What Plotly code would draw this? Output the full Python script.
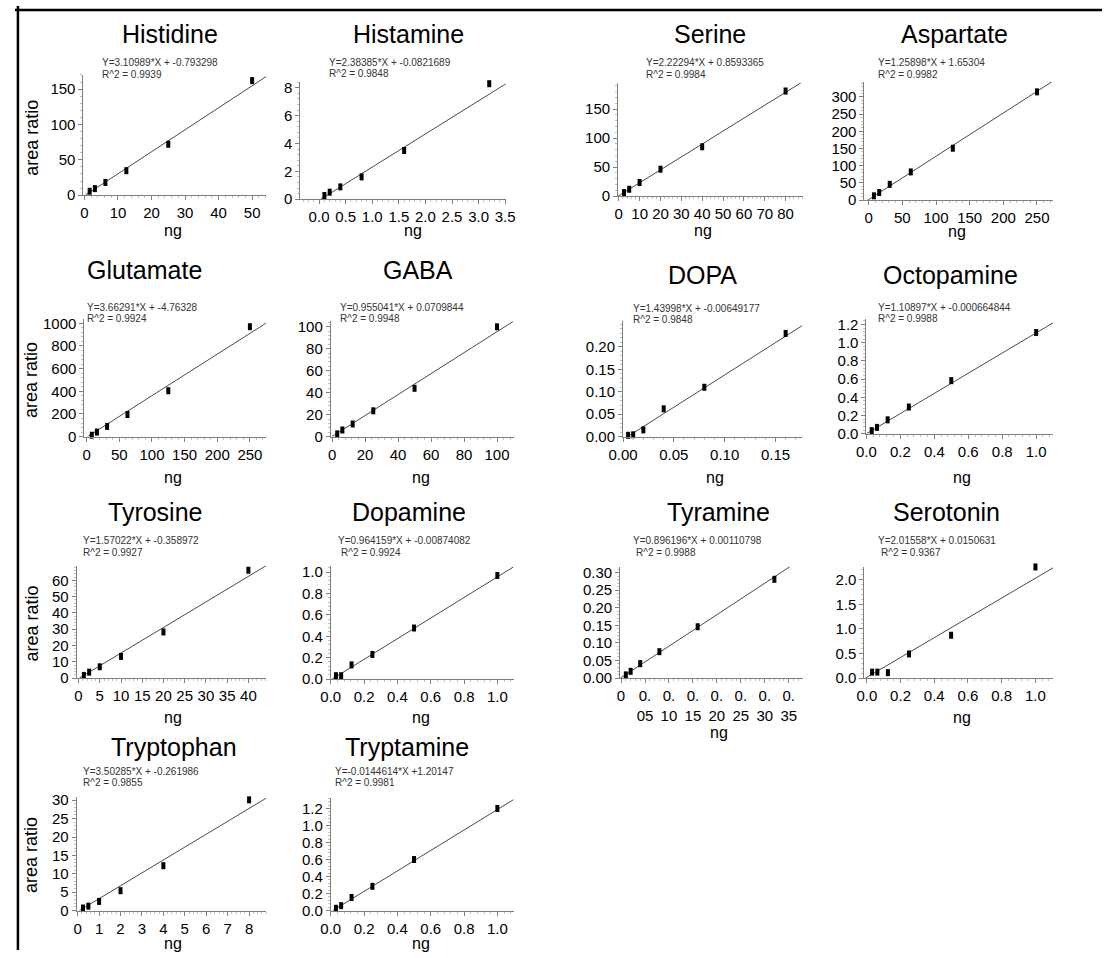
import plotly.graph_objects as go

W, H = 1112, 958

# ---------------- data ----------------
histidine_ng = [1.5625, 3.125, 6.25, 12.5, 25, 50]
histidine_ratio = [5.6, 9.3, 18, 34.7, 72, 162]
histamine_ng = [0.1, 0.2, 0.4, 0.8, 1.6, 3.2]
histamine_ratio = [0.26, 0.5, 0.88, 1.6, 3.5, 8.3]
serine_ng = [2.5, 5, 10, 20, 40, 80]
serine_ratio = [6.2, 11.9, 23.5, 46.4, 85, 181]
aspartate_ng = [7.8125, 15.625, 31.25, 62.5, 125, 250]
aspartate_ratio = [12.5, 22, 46, 82, 151, 315]
glutamate_ng = [7.8125, 15.625, 31.25, 62.5, 125, 250]
glutamate_ratio = [12, 40, 90, 195, 405, 970]
gaba_ng = [3.125, 6.25, 12.5, 25, 50, 100]
gaba_ratio = [2.5, 6, 11.5, 23.5, 44, 100]
dopa_ng = [0.005, 0.01, 0.02, 0.04, 0.08, 0.16]
dopa_ratio = [0.003, 0.004, 0.015, 0.062, 0.110, 0.230]
octopamine_ng = [0.03125, 0.0625, 0.125, 0.25, 0.5, 1.0]
octopamine_ratio = [0.033, 0.069, 0.152, 0.293, 0.583, 1.112]
tyrosine_ng = [1.25, 2.5, 5, 10, 20, 40]
tyrosine_ratio = [1.6, 3.6, 6.9, 13.3, 28.3, 66.2]
dopamine_ng = [0.03125, 0.0625, 0.125, 0.25, 0.5, 1.0]
dopamine_ratio = [0.031, 0.031, 0.132, 0.23, 0.477, 0.969]
tyramine_ng = [0.01, 0.02, 0.04, 0.08, 0.16, 0.32]
tyramine_ratio = [0.009, 0.019, 0.041, 0.075, 0.146, 0.281]
serotonin_ng = [0.03125, 0.0625, 0.125, 0.25, 0.5, 1.0]
serotonin_ratio = [0.12, 0.12, 0.11, 0.49, 0.87, 2.26]
tryptophan_ng = [0.25, 0.5, 1, 2, 4, 8]
tryptophan_ratio = [0.7, 1.2, 2.5, 5.4, 12.2, 30.1]
tryptamine_ng = [0.03125, 0.0625, 0.125, 0.25, 0.5, 1.0]
tryptamine_ratio = [0.027, 0.058, 0.154, 0.285, 0.6, 1.2]

compound_names = ["Histidine", "Histamine", "Serine", "Aspartate",
                  "Glutamate", "GABA", "DOPA", "Octopamine",
                  "Tyrosine", "Dopamine", "Tyramine", "Serotonin",
                  "Tryptophan", "Tryptamine"]
equation_labels = ["Y=3.10989*X + -0.793298", "Y=2.38385*X + -0.0821689",
                   "Y=2.22294*X + 0.8593365", "Y=1.25898*X + 1.65304",
                   "Y=3.66291*X + -4.76328", "Y=0.955041*X + 0.0709844",
                   "Y=1.43998*X + -0.00649177", "Y=1.10897*X + -0.000664844",
                   "Y=1.57022*X + -0.358972", "Y=0.964159*X + -0.00874082",
                   "Y=0.896196*X + 0.00110798", "Y=2.01558*X + 0.0150631",
                   "Y=3.50285*X + -0.261986", "Y=-0.0144614*X +1.20147"]
r2_labels = ["R^2 = 0.9939", "R^2 = 0.9848", "R^2 = 0.9984", "R^2 = 0.9982",
             "R^2 = 0.9924", "R^2 = 0.9948", "R^2 = 0.9848", "R^2 = 0.9988",
             "R^2 = 0.9927", "R^2 = 0.9924", "R^2 = 0.9988", "R^2 = 0.9367",
             "R^2 = 0.9855", "R^2 = 0.9981"]
fit_slopes = [3.10989, 2.38385, 2.22294, 1.25898, 3.66291, 0.955041, 1.43998,
              1.10897, 1.57022, 0.964159, 0.896196, 2.01558, 3.50285, 1.20147]
fit_intercepts = [-0.793298, -0.0821689, 0.8593365, 1.65304, -4.76328, 0.0709844,
                  -0.00649177, -0.000664844, -0.358972, -0.00874082, 0.00110798,
                  0.0150631, -0.261986, -0.0144614]
tyramine_tick_values = [0, 0.05, 0.10, 0.15, 0.20, 0.25, 0.30, 0.35]
tyramine_tick_text = ["0", "0.<br>05", "0.<br>10", "0.<br>15", "0.<br>20",
                      "0.<br>25", "0.<br>30", "0.<br>35"]
dopa_y_tick_values = [0, 0.05, 0.10, 0.15, 0.20]

xs = [histidine_ng, histamine_ng, serine_ng, aspartate_ng, glutamate_ng, gaba_ng,
      dopa_ng, octopamine_ng, tyrosine_ng, dopamine_ng, tyramine_ng, serotonin_ng,
      tryptophan_ng, tryptamine_ng]
ys = [histidine_ratio, histamine_ratio, serine_ratio, aspartate_ratio,
      glutamate_ratio, gaba_ratio, dopa_ratio, octopamine_ratio, tyrosine_ratio,
      dopamine_ratio, tyramine_ratio, serotonin_ratio, tryptophan_ratio,
      tryptamine_ratio]

# ---------------- layout of panels (pixels) ----------------
geom = [
    ((70, 257, 70, 192), (-0.3, 54.2), (0, 170), 10, 50, "", ""),
    ((292, 502, 77, 196), (-0.35, 3.51), (0, 8.43), 0.5, 2, ".1f", ""),
    ((617, 806, 78, 193), (-0.31, 88.3), (0, 195), 10, 50, "", ""),
    ((869, 1062, 77, 197), (-6.3, 274), (0, 344), 50, 50, "", ""),
    ((71, 257, 318, 437), (-3.5, 275), (0, 1035), 50, 200, "", ""),
    ((323, 510, 320, 437), (-0.8, 110), (0, 105), 20, 20, "", ""),
    ((622, 805, 320, 437), (0, 0.176), (0, 0.257), 0.05, 0.05, ".2f", ".2f"),
    ((871, 1062, 318, 434), (0, 1.1), (0, 1.257), 0.2, 0.2, ".1f", ".1f"),
    ((63, 257, 568, 682), (-0.46, 44.2), (0, 69), 5, 10, "", ""),
    ((323, 510, 568, 683), (0, 1.097), (0, 1.06), 0.2, 0.2, ".1f", ".1f"),
    ((619, 806, 569, 682), (-0.002, 0.3795), (0, 0.317), 0.05, 0.05, "", ".2f"),
    ((869, 1062, 569, 682), (-0.014, 1.105), (0, 2.265), 0.2, 0.5, ".1f", ".1f"),
    ((63, 257, 803, 918), (-0.05, 8.8), (0, 30.8), 1, 5, "", ""),
    ((323, 510, 804, 918), (0, 1.097), (0, 1.32), 0.2, 0.2, ".1f", ".1f"),
]
title_pos = [(159, 28), (403, 28), (711, 28), (961, 28),
             (132, 268), (412, 268), (703, 273), (957, 273),
             (143, 513), (403, 513), (720, 513), (953, 513),
             (163, 752), (401, 752)]
eq_pos = [(87, 57, 70), (319, 57, 69), (643, 57, 70), (881, 57, 70),
          (72, 306, 317), (330, 306, 317), (630, 307, 318), (881, 306, 317),
          (68, 542, 555), (328, 542, 555), (630, 542, 555), (881, 542, 555),
          (68, 777, 788), (325, 777, 788)]
ng_pos = [(162, 228), (407, 228), (704, 228), (964, 229),
          (162, 478), (415, 478), (716, 478), (969, 478),
          (162, 722), (415, 722), (720, 737), (969, 722),
          (162, 951), (415, 951)]
area_pos = [(17, 134), (17, 380), (17, 627), (17, 862)]

FONT = "Arial, Liberation Sans, sans-serif"
AXC = "#808080"

fig = go.Figure()
annotations = []


def px_x(v):
    return v / W


def px_y(v):
    return 1 - v / H


for i in range(14):
    k = i + 1
    (x0, x1, yt, yb), xr, yr, xd, yd, xf, yf = geom[i]
    xa = "x" if k == 1 else f"x{k}"
    ya = "y" if k == 1 else f"y{k}"
    m, b = fit_slopes[i], fit_intercepts[i]
    xs0 = max(xr[0], -b / m)
    xs1 = min(xr[1], (yr[1] - b) / m)
    fig.add_trace(go.Scatter(x=[xs0, xs1], y=[m * xs0 + b, m * xs1 + b],
                             mode="lines", line=dict(color="#4a4a4a", width=1),
                             xaxis=xa, yaxis=ya, hoverinfo="skip"))
    fig.add_trace(go.Scatter(x=xs[i], y=ys[i], mode="markers",
                             marker=dict(symbol="line-ns", size=5,
                                         line=dict(width=4, color="black")),
                             cliponaxis=False, xaxis=xa, yaxis=ya))
    narrow = (compound_names[i] == "Tyrosine")
    tfont = dict(family=("Liberation Sans Narrow, Arial Narrow, " + FONT) if narrow else FONT,
                 size=15, color="black")
    xaxis = dict(domain=[px_x(x0), px_x(x1)], range=list(xr), anchor=ya,
                 showline=True, linecolor=AXC, linewidth=1, ticks="outside",
                 ticklen=4, tickcolor=AXC, tickfont=tfont, showgrid=False,
                 zeroline=False, fixedrange=True,
                 minor=dict(ticks="outside", ticklen=2, tickcolor="#c0c0c0",
                            dtick=xd / 5, tick0=0, showgrid=False))
    if compound_names[i] == "Tyramine":
        xaxis.update(tickmode="array", tickvals=tyramine_tick_values,
                     ticktext=tyramine_tick_text)
    else:
        xaxis.update(tick0=0, dtick=xd, tickformat=xf)
    yaxis = dict(domain=[px_y(yb), px_y(yt)], range=list(yr), anchor=xa,
                 showline=True, linecolor=AXC, linewidth=1, ticks="outside",
                 ticklen=4, tickcolor=AXC, tickfont=tfont, showgrid=False,
                 zeroline=False, fixedrange=True, tickformat=yf,
                 minor=dict(ticks="outside", ticklen=2, tickcolor="#c0c0c0",
                            dtick=yd / 5, tick0=0, showgrid=False))
    if compound_names[i] == "DOPA":
        yaxis.update(tickmode="array", tickvals=dopa_y_tick_values)
    else:
        yaxis.update(tick0=0, dtick=yd)
    fig.layout["xaxis" if k == 1 else f"xaxis{k}"] = xaxis
    fig.layout["yaxis" if k == 1 else f"yaxis{k}"] = yaxis

    tx, ty = title_pos[i]
    annotations.append(dict(x=px_x(tx), y=px_y(ty), xref="paper", yref="paper",
                            text=compound_names[i], showarrow=False,
                            xanchor="center", yanchor="middle",
                            font=dict(family=FONT, size=25, color="black")))
    ex, ey, ry = eq_pos[i]
    annotations.append(dict(x=px_x(ex), y=px_y(ey), xref="paper", yref="paper",
                            text=equation_labels[i], showarrow=False,
                            xanchor="left", yanchor="middle",
                            font=dict(family=FONT, size=10, color="#333333")))
    rx = ex + (3 if compound_names[i] in ("Dopamine", "Tyramine", "Serotonin") else 0)
    annotations.append(dict(x=px_x(rx), y=px_y(ry), xref="paper", yref="paper",
                            text=r2_labels[i], showarrow=False,
                            xanchor="left", yanchor="middle",
                            font=dict(family=FONT, size=10, color="#333333")))
    nx, ny = ng_pos[i]
    annotations.append(dict(x=px_x(nx), y=px_y(ny), xref="paper", yref="paper",
                            text="ng", showarrow=False,
                            xanchor="center", yanchor="middle",
                            font=dict(family=FONT, size=16, color="black")))

for ax_, ay_ in area_pos:
    annotations.append(dict(x=px_x(ax_), y=px_y(ay_), xref="paper", yref="paper",
                            text="area ratio", showarrow=False, textangle=-90,
                            xanchor="center", yanchor="middle",
                            font=dict(family=FONT, size=18, color="black")))

shapes = [
    dict(type="line", xref="paper", yref="paper", x0=0, x1=1,
         y0=px_y(4), y1=px_y(4), line=dict(color="black", width=2.5)),
    dict(type="line", xref="paper", yref="paper", x0=px_x(3), x1=px_x(3),
         y0=0, y1=1, line=dict(color="black", width=2.5)),
]

fig.update_layout(width=W, height=H, margin=dict(l=0, r=0, t=0, b=0),
                  paper_bgcolor="white", plot_bgcolor="white",
                  showlegend=False, annotations=annotations, shapes=shapes,
                  font=dict(family=FONT))

fig.write_html("out.html", config={"displayModeBar": False},
               post_script="document.body.style.margin='0px';"
                           "document.body.style.overflow='hidden';")
